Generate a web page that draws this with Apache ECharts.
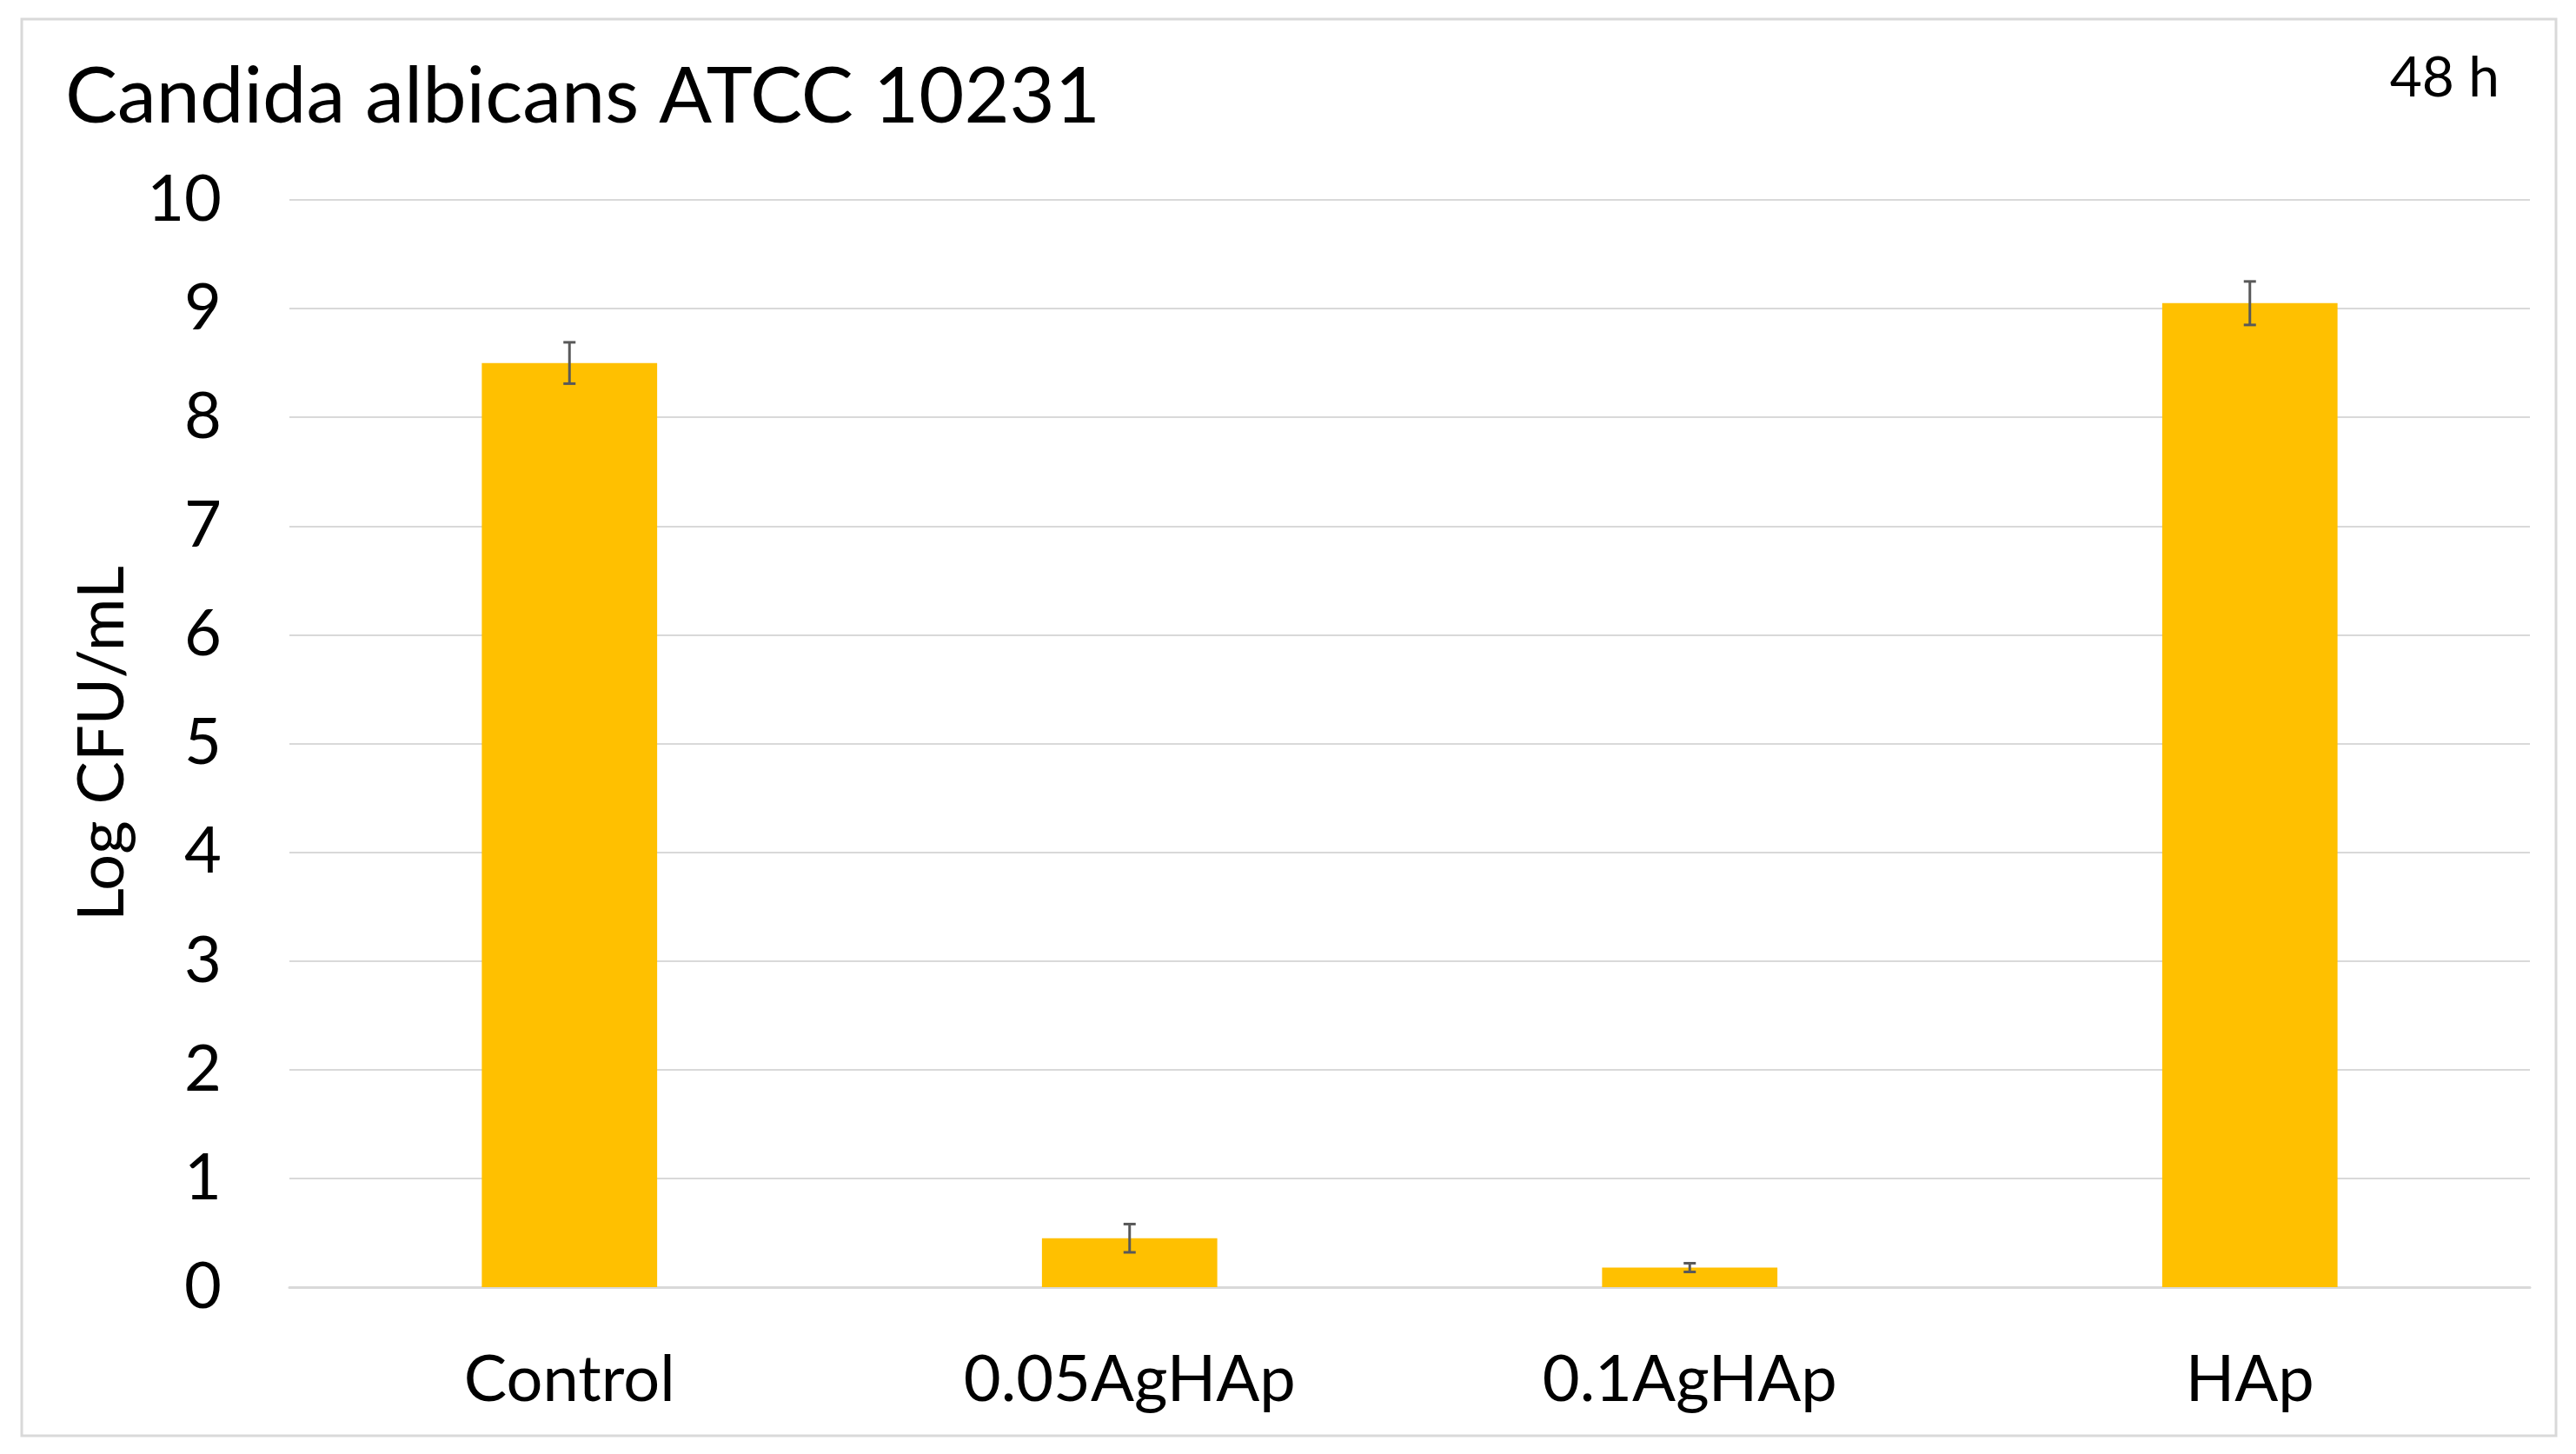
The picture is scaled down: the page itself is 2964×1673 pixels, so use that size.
<!DOCTYPE html>
<html>
<head>
<meta charset="utf-8">
<script src="https://cdn.jsdelivr.net/npm/echarts@6/dist/echarts.min.js"></script>
<style>
  html, body { margin: 0; padding: 0; background: #fff; }
  #main { width: 2964px; height: 1673px; }
</style>
</head>
<body>
<div id="main"></div>
<script>
// 数据
var categories = ['Control', '0.05AgHAp', '0.1AgHAp', 'HAp'];
var logCfu = [8.50, 0.45, 0.18, 9.05];
var errSd = [0.19, 0.13, 0.04, 0.20];
var yTicks = [0, 1, 2, 3, 4, 5, 6, 7, 8, 9, 10];

var FONT = 'Lato';
var chart = echarts.init(document.getElementById('main'));

// 误差线数据
var errData = [];
for (var i = 0; i < categories.length; i++) {
    errData.push([i, logCfu[i] - errSd[i], logCfu[i] + errSd[i]]);
}

var option = {
    backgroundColor: '#ffffff',
    animation: false,
    title: {
        text: 'Candida albicans ATCC 10231',
        left: 70,
        top: 62,
        textStyle: { fontFamily: FONT, fontSize: 90, fontWeight: 'normal', color: '#000' }
    },
    graphic: [
        {
            type: 'rect',
            shape: { x: 25, y: 22, width: 2916, height: 1630 },
            style: { fill: null, stroke: '#d9d9d9', lineWidth: 3 }
        },
        {
            type: 'text',
            right: 2964 - 2876,
            top: 58,
            style: { text: '48 h', fontFamily: FONT, fontSize: 64, fill: '#000' }
        }
    ],
    grid: { left: 333, right: 53, top: 230, bottom: 192 },
    xAxis: {
        type: 'category',
        data: categories,
        axisLine: { show: true, lineStyle: { color: '#d9d9d9', width: 3 } },
        axisTick: { show: false },
        axisLabel: { fontFamily: FONT, fontSize: 74, color: '#000', margin: 70 }
    },
    yAxis: {
        type: 'value',
        min: yTicks[0],
        max: yTicks[yTicks.length - 1],
        interval: 1,
        name: 'Log CFU/mL',
        nameLocation: 'middle',
        nameGap: 178,
        nameRotate: 90,
        nameTextStyle: { fontFamily: FONT, fontSize: 74, color: '#000' },
        axisLine: { show: false },
        axisTick: { show: false },
        splitLine: { lineStyle: { color: '#d9d9d9', width: 2 } },
        axisLabel: { fontFamily: FONT, fontSize: 74, color: '#000', margin: 78 }
    },
    series: [
        {
            type: 'bar',
            data: logCfu,
            barWidth: '31.3%',
            itemStyle: { color: '#FFC000' }
        },
        {
            type: 'custom',
            data: errData,
            z: 10,
            renderItem: function (params, api) {
                var x = api.value(0);
                var lo = api.coord([x, api.value(1)]);
                var hi = api.coord([x, api.value(2)]);
                var cap = 7;
                var st = { stroke: '#595959', lineWidth: 3 };
                return {
                    type: 'group',
                    children: [
                        { type: 'line', shape: { x1: lo[0], y1: lo[1], x2: hi[0], y2: hi[1] }, style: st },
                        { type: 'line', shape: { x1: lo[0] - cap, y1: lo[1], x2: lo[0] + cap, y2: lo[1] }, style: st },
                        { type: 'line', shape: { x1: hi[0] - cap, y1: hi[1], x2: hi[0] + cap, y2: hi[1] }, style: st }
                    ]
                };
            }
        }
    ]
};

chart.setOption(option);
</script>
</body>
</html>
